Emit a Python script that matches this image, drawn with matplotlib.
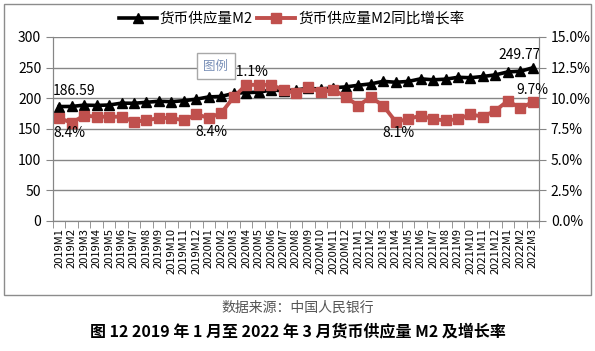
import matplotlib.pyplot as plt
import matplotlib.patches as patches
import numpy as np

plt.rcParams['font.family'] = ['Noto Sans CJK SC', 'DejaVu Sans']

# months 2019M1 .. 2022M3
months = [f"{y}M{m}" for y in (2019, 2020, 2021) for m in range(1, 13)] + ["2022M1", "2022M2", "2022M3"]
m2 = [186.59, 186.74, 188.94, 188.45, 189.12, 192.14, 191.94, 193.55, 195.23, 194.56, 196.14, 198.65,
      202.31, 203.08, 208.09, 209.35, 210.02, 213.49, 212.55, 213.68, 216.41, 215.00, 217.20, 218.68,
      221.30, 223.60, 227.65, 226.21, 227.55, 231.78, 230.22, 231.23, 234.28, 233.62, 235.60, 238.29,
      243.10, 244.15, 249.77]
growth = [8.4, 8.0, 8.6, 8.5, 8.5, 8.5, 8.1, 8.2, 8.4, 8.4, 8.2, 8.7,
          8.4, 8.8, 10.1, 11.1, 11.1, 11.1, 10.7, 10.4, 10.9, 10.5, 10.7, 10.1,
          9.4, 10.1, 9.4, 8.1, 8.3, 8.6, 8.3, 8.2, 8.3, 8.7, 8.5, 9.0,
          9.8, 9.2, 9.7]

red = '#C0504D'
grid = '#868686'
x = np.arange(len(months))

fig = plt.figure(figsize=(5.95, 3.51), dpi=100)
ax = fig.add_axes([53/595, 1-221/351, (539-53)/595, (221-37)/351])
ax2 = ax.twinx()

l1, = ax.plot(x, m2, color='black', lw=2.6, marker='^', ms=7.5, label='货币供应量M2')
l2, = ax2.plot(x, growth, color=red, lw=2.8, marker='s', ms=7.5, label='货币供应量M2同比增长率')

ax.set_xlim(-0.5, len(months) - 0.5)
ax.set_ylim(0, 300)
ax.set_yticks(np.arange(0, 301, 50))
ax2.set_ylim(0, 15)
ax2.set_yticks(np.arange(0, 15.1, 2.5))
ax2.set_yticklabels([f"{v:.1f}%" for v in np.arange(0, 15.1, 2.5)])
ax.grid(axis='y', color=grid, lw=1)
ax.set_axisbelow(True)

ax.set_xticks(x)
ax.set_xticklabels(months, rotation=90, fontsize=8)
ax.tick_params(axis='x', length=0, pad=5)
ax.set_xticks(np.arange(-0.5, len(months)), minor=True)
ax.tick_params(axis='x', which='minor', length=5, color=grid)
ax.tick_params(axis='y', length=5, color=grid, labelsize=10)
ax2.tick_params(axis='y', length=5, color=grid, labelsize=10)

for a in (ax, ax2):
    a.spines['top'].set_visible(False)
    for side in ('left', 'right', 'bottom'):
        a.spines[side].set_color(grid)

# data labels
lab = dict(textcoords='offset points', fontsize=10)
ax.annotate(f"{m2[0]:.2f}", (x[0], m2[0]), xytext=(-4.5, 11), ha='left', va='center', **lab)
ax.annotate(f"{m2[-1]:.2f}", (x[-1], m2[-1]), xytext=(5.5, 9), ha='right', va='center', **lab)
ax2.annotate(f"{growth[0]:.1f}%", (x[0], growth[0]), xytext=(-4.5, -11), ha='left', va='center', **lab)
for i, dx, dy in [(12, 2, -10), (15, 1.5, 9.5), (27, 2, -8), (38, 0, 8.5)]:
    ax2.annotate(f"{growth[i]:.1f}%", (x[i], growth[i]), xytext=(dx, dy), ha='center', va='center', **lab)

fig.legend(handles=[l1, l2], loc='center', bbox_to_anchor=(0.49, 0.946), ncol=2, frameon=False,
           fontsize=10.5, handlelength=2.6, columnspacing=0.3, handletextpad=0.2)

# tooltip box
fig.text(216/595, 1-66/351, '图例', ha='center', va='center', fontsize=9, color='#7a90b8', zorder=10,
         bbox=dict(boxstyle='square,pad=0.5', fc='white', ec='#a8a8a8', lw=1))

fig.patches.append(patches.Rectangle((4/595, 1-295/351), 587/595, 291/351, transform=fig.transFigure,
                                     fill=False, ec='#8c8c8c', lw=1))

fig.text(0.5, 1-308/351, '数据来源：中国人民银行', ha='center', va='center', fontsize=10, color='#555555')
fig.text(0.5, 1-331/351, '图 12 2019 年 1 月至 2022 年 3 月货币供应量 M2 及增长率', ha='center', va='center',
         fontsize=11.5, fontweight='bold')

fig.savefig('out.png', dpi=100)
